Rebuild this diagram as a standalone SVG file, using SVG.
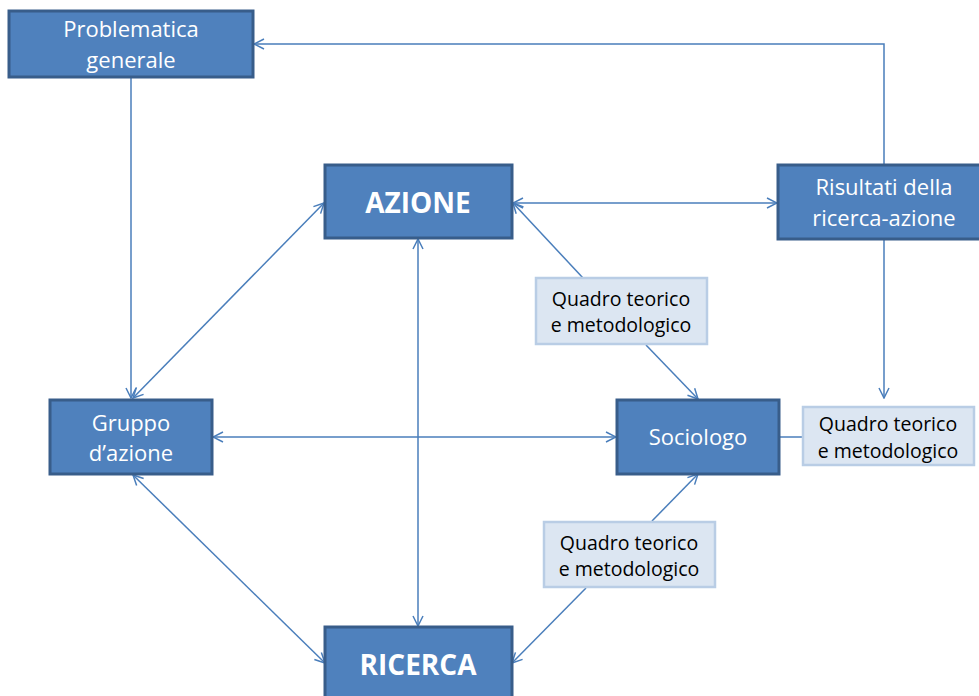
<svg xmlns="http://www.w3.org/2000/svg" width="979" height="696" viewBox="0 0 979 696">
<defs>
<marker id="ah" viewBox="0 0 12 12" refX="11" refY="6" markerWidth="12" markerHeight="12" markerUnits="userSpaceOnUse" orient="auto-start-reverse">
<path d="M1,1 L11,6 L1,11" fill="none" stroke="#4A7EBB" stroke-width="1.5"/>
</marker>
<style>
.main rect{fill:#4F81BD;stroke:#385D8A;stroke-width:3}
.sub rect{fill:#DCE6F2;stroke:#B9CDE5;stroke-width:2.5}
.main text{fill:#fff;font-family:"Open Sans","Liberation Sans",sans-serif;font-size:22px;text-anchor:middle}
.main text.big{font-size:28px;font-weight:bold}
.sub text{fill:#000;font-family:"Open Sans","Liberation Sans",sans-serif;font-size:19.5px;text-anchor:middle}
#connectors line,#connectors polyline{stroke:#4A7EBB;stroke-width:1.5;fill:none}
.e{marker-end:url(#ah)}
.b{marker-start:url(#ah);marker-end:url(#ah)}
</style>
</defs>
<rect width="979" height="696" fill="#fff"/>
<g id="connectors">
<polyline class="e" points="884,165 884,44 254,44"/>
<line class="e" x1="131" y1="78" x2="131" y2="398"/>
<line class="b" x1="133" y1="398" x2="324" y2="203"/>
<line class="b" x1="213" y1="437" x2="616" y2="437"/>
<line class="b" x1="133" y1="475" x2="325" y2="663"/>
<line class="b" x1="418" y1="239" x2="418" y2="626"/>
<line class="b" x1="513" y1="203" x2="777" y2="203"/>
<line class="e" x1="583" y1="278" x2="513" y2="203"/>
<line class="e" x1="646" y1="345" x2="698" y2="399"/>
<line class="e" x1="884" y1="240" x2="884" y2="398"/>
<line x1="780" y1="437" x2="803" y2="437"/>
<line class="e" x1="652" y1="521" x2="698" y2="474"/>
<line class="e" x1="586" y1="588" x2="512" y2="663"/>
</g>
<g id="problematica" class="main">
<rect x="9" y="11" width="244" height="66"/>
<text x="131" y="37">Problematica</text>
<text x="131" y="68">generale</text>
</g>
<g id="azione" class="main">
<rect x="325" y="165" width="187" height="73"/>
<text class="big" x="418" y="213">AZIONE</text>
</g>
<g id="risultati" class="main">
<rect x="778" y="165" width="212" height="74"/>
<text x="884" y="195">Risultati della</text>
<text x="884" y="226">ricerca-azione</text>
</g>
<g id="gruppo" class="main">
<rect x="50" y="400" width="162" height="74"/>
<text x="131" y="431">Gruppo</text>
<text x="131" y="461">d’azione</text>
</g>
<g id="sociologo" class="main">
<rect x="617" y="400" width="162" height="74"/>
<text x="698" y="445">Sociologo</text>
</g>
<g id="ricerca" class="main">
<rect x="325" y="627" width="187" height="80"/>
<text class="big" x="418" y="675">RICERCA</text>
</g>
<g id="quadro1" class="sub">
<rect x="536" y="278" width="171" height="66"/>
<text x="621" y="306">Quadro teorico</text>
<text x="621" y="332">e metodologico</text>
</g>
<g id="quadro2" class="sub">
<rect x="803" y="407" width="171" height="58"/>
<text x="888" y="431">Quadro teorico</text>
<text x="888" y="458">e metodologico</text>
</g>
<g id="quadro3" class="sub">
<rect x="544" y="522" width="171" height="65"/>
<text x="629" y="550">Quadro teorico</text>
<text x="629" y="576">e metodologico</text>
</g>
</svg>
